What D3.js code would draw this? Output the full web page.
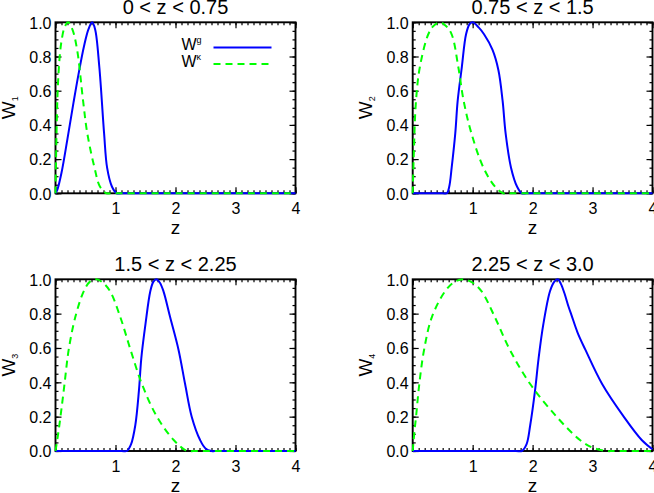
<!DOCTYPE html>
<html><head><meta charset="utf-8">
<script src="https://cdn.jsdelivr.net/npm/d3@7"></script>
<style>
html,body{margin:0;padding:0;background:#fff;}
svg{display:block;font-family:"Liberation Sans",Arial,Helvetica,sans-serif;}
</style></head>
<body>
<script>
// ---- data ----
const titles = ["0 < z < 0.75", "0.75 < z < 1.5", "1.5 < z < 2.25", "2.25 < z < 3.0"];
const yLabelIdx = ["1", "2", "3", "4"];
const xTicks = [0, 1, 2, 3, 4];
const yTicks = [0, 0.2, 0.4, 0.6, 0.8, 1.0];

const wg1 = [[0,0],[0.03,0.02],[0.1,0.12],[0.2,0.32],[0.3,0.53],[0.38,0.69],[0.475,0.86],[0.55,0.96],[0.61,1.0],[0.66,0.96],[0.73,0.74],[0.81,0.35],[0.86,0.15],[0.94,0.04],[1.02,0],[1.1,0],[4,0]];
const wk1 = [[0,0],[0.02,0.4],[0.04,0.63],[0.07,0.8],[0.1,0.89],[0.15,0.97],[0.21,1.0],[0.28,0.96],[0.36,0.84],[0.46,0.54],[0.53,0.35],[0.65,0.15],[0.74,0.04],[0.85,0],[0.93,0],[4,0]];
const wg2 = [[0,0],[0.5,0],[0.57,0],[0.61,0.04],[0.65,0.15],[0.71,0.35],[0.75,0.54],[0.82,0.74],[0.89,0.93],[0.95,0.99],[1.0,1.0],[1.1,0.97],[1.19,0.93],[1.33,0.84],[1.43,0.72],[1.5,0.54],[1.55,0.35],[1.64,0.15],[1.74,0.04],[1.82,0],[1.9,0],[4,0]];
const wk2 = [[0,0],[0.02,0.25],[0.055,0.54],[0.12,0.74],[0.26,0.93],[0.35,0.98],[0.46,1.0],[0.55,0.98],[0.65,0.93],[0.76,0.74],[0.85,0.54],[0.98,0.35],[1.18,0.15],[1.37,0.04],[1.51,0],[1.6,0],[4,0]];
const wg3 = [[0,0],[1.1,0],[1.19,0],[1.26,0.04],[1.33,0.15],[1.39,0.35],[1.43,0.54],[1.5,0.74],[1.58,0.93],[1.63,0.985],[1.68,1.0],[1.74,0.98],[1.8,0.93],[1.91,0.78],[2.05,0.59],[2.16,0.39],[2.27,0.2],[2.41,0.064],[2.5,0.015],[2.6,0],[2.7,0],[4,0]];
const wk3 = [[0,0],[0.04,0.09],[0.083,0.2],[0.15,0.39],[0.22,0.59],[0.33,0.78],[0.47,0.93],[0.57,0.985],[0.68,1.0],[0.79,0.98],[0.91,0.93],[1.08,0.78],[1.25,0.59],[1.44,0.39],[1.69,0.2],[1.97,0.064],[2.19,0],[2.3,0],[4,0]];
const wg4 = [[0,0],[1.72,0],[1.82,0],[1.9,0.04],[1.96,0.15],[2.04,0.35],[2.1,0.54],[2.18,0.74],[2.29,0.93],[2.36,0.985],[2.42,1.0],[2.47,0.975],[2.53,0.92],[2.6,0.84],[2.65,0.79],[2.75,0.69],[2.88,0.59],[3.16,0.39],[3.52,0.2],[3.82,0.064],[4,0.01]];
const wk4 = [[0,0],[0.025,0.1],[0.056,0.2],[0.11,0.39],[0.19,0.59],[0.32,0.78],[0.54,0.93],[0.7,0.985],[0.85,1.0],[1.0,0.98],[1.15,0.93],[1.37,0.78],[1.62,0.59],[1.96,0.39],[2.4,0.2],[2.79,0.064],[3.0,0.02],[3.24,0],[3.35,0],[4,0]];

const galaxy = [wg1, wg2, wg3, wg4];
const lensing = [wk1, wk2, wk3, wk4];

// ---- layout ----
const W = 654, H = 493;
const panels = [
  {x0: 55.5, x1: 295.5, y0: 22.3, y1: 193.3},
  {x0: 412.7, x1: 652.5, y0: 22.3, y1: 193.3},
  {x0: 55.5, x1: 295.5, y0: 279.3, y1: 451},
  {x0: 412.7, x1: 652.5, y0: 279.3, y1: 451}
];
const BLUE = "#0000ff", GREEN = "#00ff00";
const DASH = "7,5";

const svg = d3.select("body").append("svg").attr("width", W).attr("height", H);

const xMinor = d3.range(0, 41).map(i => i / 10);
const yMinor = d3.range(0, 21).map(i => i / 20);

panels.forEach((p, i) => {
  const x = d3.scaleLinear().domain([0, 4]).range([p.x0, p.x1]);
  const y = d3.scaleLinear().domain([0, 1]).range([p.y1, p.y0]);
  const g = svg.append("g");

  const mk = (axis, tv, size) => axis.tickValues(tv).tickSize(size).tickFormat("");
  g.append("g").attr("transform", `translate(0,${p.y1})`).call(mk(d3.axisBottom(x), xMinor, -3));
  g.append("g").attr("transform", `translate(0,${p.y0})`).call(mk(d3.axisTop(x), xMinor, -3));
  g.append("g").attr("transform", `translate(${p.x0},0)`).call(mk(d3.axisLeft(y), yMinor, -3));
  g.append("g").attr("transform", `translate(${p.x1},0)`).call(mk(d3.axisRight(y), yMinor, -3));

  const xb = g.append("g").attr("transform", `translate(0,${p.y1})`)
    .call(d3.axisBottom(x).tickValues(xTicks).tickSize(-6).tickPadding(0).tickFormat(d => d === 0 ? "" : d3.format("d")(d)));
  xb.selectAll("text").attr("y", 20.5).attr("dy", null).attr("font-size", 16).attr("fill", "#000");
  g.append("g").attr("transform", `translate(0,${p.y0})`).call(mk(d3.axisTop(x), xTicks, -6));
  const yl = g.append("g").attr("transform", `translate(${p.x0},0)`)
    .call(d3.axisLeft(y).tickValues(yTicks).tickSize(-6).tickPadding(0).tickFormat(d3.format(".1f")));
  yl.selectAll("text").attr("x", -4).attr("dy", "0.36em").attr("font-size", 16).attr("fill", "#000");
  g.append("g").attr("transform", `translate(${p.x1},0)`).call(mk(d3.axisRight(y), yTicks, -6));

  g.selectAll(".domain").remove();
  g.selectAll(".tick line").attr("stroke", "#000").attr("stroke-width", 1.2);

  g.append("rect").attr("x", p.x0).attr("y", p.y0).attr("width", p.x1 - p.x0).attr("height", p.y1 - p.y0)
    .attr("fill", "none").attr("stroke", "#000").attr("stroke-width", 1.9);

  const line = d3.line().x(d => x(d[0])).y(d => y(d[1])).curve(d3.curveCatmullRom.alpha(0.5));
  g.append("path").datum(galaxy[i]).attr("d", line).attr("fill", "none")
    .attr("stroke", BLUE).attr("stroke-width", 2);
  g.append("path").datum(lensing[i]).attr("d", line).attr("fill", "none")
    .attr("stroke", GREEN).attr("stroke-width", 2).attr("stroke-dasharray", DASH);

  g.append("text").attr("x", (p.x0 + p.x1) / 2).attr("y", p.y0 - 8)
    .attr("text-anchor", "middle").attr("font-size", 20).attr("fill", "#000").text(titles[i]);
  g.append("text").attr("x", (p.x0 + p.x1) / 2).attr("y", p.y1 + 40.5)
    .attr("text-anchor", "middle").attr("font-size", 19).attr("fill", "#000").text("z");
  const yt = g.append("text")
    .attr("transform", `translate(${p.x0 - 41},${(p.y0 + p.y1) / 2}) rotate(-90)`)
    .attr("text-anchor", "middle").attr("font-size", 19).attr("fill", "#000");
  yt.append("tspan").text("W");
  yt.append("tspan").attr("font-size", 9).attr("dy", 3).text(yLabelIdx[i]);

  if (i === 0) {
    const items = [
      {sym: "g", c: BLUE, dash: null, yb: 50},
      {sym: "\u03BA", c: GREEN, dash: DASH, yb: 66.5}
    ];
    items.forEach(it => {
      const t = g.append("text").attr("x", 181.5).attr("y", it.yb).attr("font-size", 16).attr("fill", "#000");
      t.append("tspan").text("W");
      t.append("tspan").attr("font-size", 9).attr("dy", -7).text(it.sym);
      g.append("line").attr("x1", 213.5).attr("x2", 271.5).attr("y1", it.yb - 2.5).attr("y2", it.yb - 2.5)
        .attr("stroke", it.c).attr("stroke-width", 2).attr("stroke-dasharray", it.dash);
    });
  }
});
</script>
</body></html>
